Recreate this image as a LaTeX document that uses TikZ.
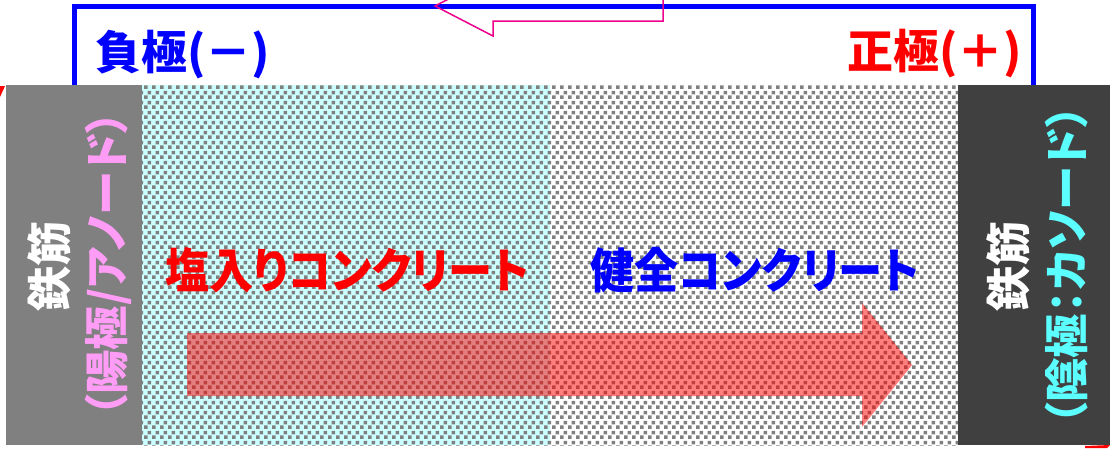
\documentclass[tikz,border=0pt]{standalone}
\usepackage{fontspec}
\newfontfamily\jp{Noto Sans CJK JP}[RawFeature=+palt]
\usetikzlibrary{patterns}
\definecolor{saltbg}{HTML}{CCFFFF}
\definecolor{dotgray}{HTML}{808080}
\definecolor{barL}{HTML}{808080}
\definecolor{barR}{HTML}{404040}
\definecolor{anodepink}{HTML}{FF9CF5}
\definecolor{cathcyan}{HTML}{5CFFFF}
\pgfdeclarepatternformonly{confetti}{\pgfqpoint{0pt}{0pt}}{\pgfqpoint{8pt}{10pt}}{\pgfqpoint{8pt}{10pt}}{%
  \pgfpathrectangle{\pgfqpoint{0pt}{0pt}}{\pgfqpoint{4pt}{4pt}}%
  \pgfpathrectangle{\pgfqpoint{4pt}{5pt}}{\pgfqpoint{4pt}{4pt}}%
  \pgfusepath{fill}}
\begin{document}
\begin{tikzpicture}[x=1pt,y=-1pt,
  lbl/.style={inner sep=0pt},
  pole/.style={lbl, font=\jp\bfseries\fontsize{46}{50}\selectfont},
  conc/.style={lbl, xscale=0.92, font=\jp\bfseries\fontsize{48}{52}\selectfont},
  rebar/.style={lbl, rotate=90, anchor=base, white, font=\jp\bfseries\fontsize{45}{50}\selectfont},
  role/.style={lbl, rotate=90, anchor=base, font=\jp\bfseries\fontsize{44.5}{50}\selectfont},
  frame/.style={blue, line width=5pt},
  flowarrow/.style={magenta, line width=1.5pt, line join=miter},
  migration/.style={fill=red, fill opacity=0.5}
]
\useasboundingbox (0,0) rectangle (1114,448);
\clip (0,0) rectangle (1114,448);
\fill[white] (0,0) rectangle (1114,448);
% blue circuit frame
\draw[frame] (74,6) rectangle (1033.5,200);
% hollow current arrow at top
\draw[flowarrow] (435,6) -- (493,36) -- (493,21) -- (663,21) -- (663,-9) -- (493,-9) -- (493,-24) -- cycle;
% concrete
\fill[white] (142,85) rectangle (958,445);
\fill[saltbg] (142,85) rectangle (550,445);
\fill[pattern=confetti, pattern color=dotgray] (142,85) rectangle (958,445);
% rebars
\fill[barL] (6,85) rectangle (142,445);
\fill[barR] (958,85) rectangle (1110,445);
% red migration arrow
\path[migration] (187,333) -- (862,333) -- (862,303) -- (912,365) -- (862,427) -- (862,396) -- (187,396) -- cycle;
% red fragments at corners
\fill[red] (0,86) -- (5,86) -- (0,97) -- cycle;
\fill[red] (1085,446) -- (1110,445) -- (1107,448) -- (1085,448) -- cycle;
% labels
\node[pole, blue, anchor=base west] (neg) at (95,69) {負極(－)};
\node[pole, red, anchor=base east] (pos) at (1022,68) {正極(＋)};
\node[conc, red, anchor=base west] (salt) at (165,288) {塩入りコンクリート};
\node[conc, blue, anchor=base west] (sound) at (590,288) {健全コンクリート};
\node[rebar] (rebarL) at (66,266) {鉄筋};
\node[role, anodepink] (anode) at (123,264) {（陽極/アノード）};
\node[rebar] (rebarR) at (1025,266) {鉄筋};
\node[role, cathcyan] (cathode) at (1083,265) {（陰極：カソード）};
\end{tikzpicture}
\end{document}
